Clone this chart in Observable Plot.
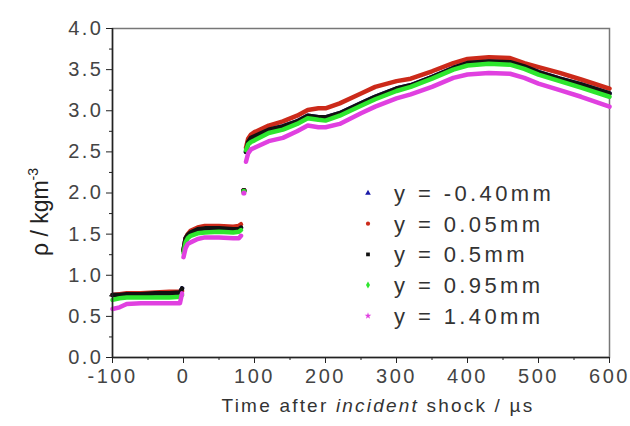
<!DOCTYPE html>
<html>
<head>
<meta charset="utf-8">
<script src="https://cdn.jsdelivr.net/npm/d3@7"></script>
<script src="https://cdn.jsdelivr.net/npm/@observablehq/plot@0.6"></script>
<style>
  html, body { margin: 0; padding: 0; background: #fff; }
  #chart { width: 630px; height: 426px; }
</style>
</head>
<body>
<div id="chart"></div>
<script>
// Time after incident shock (µs)
const time = [-100,-90,-80,-60,-40,-20,-5,-2,
              0,3,6,10,20,30,50,70,78,81,
              85,
              88,91,95,100,120,140,160,175,190,200,220,250,270,300,320,350,380,400,430,460,480,500,530,560,600];
// segment boundaries (times where the signal jumps)
const jumps = [-1, 83, 87];

const seriesNames = ["y = -0.40mm", "y = 0.05mm", "y = 0.5mm", "y = 0.95mm", "y = 1.40mm"];
const seriesColors = ["#1a1aa8", "#cc2a1a", "#111111", "#2ee62e", "#e040e0"];
const seriesSymbols = ["triangle", "circle", "square", "diamond", "star"];

const rhoM040 = [0.76,0.76,0.77,0.77,0.78,0.78,0.79,0.84,
                 1.30,1.45,1.49,1.52,1.56,1.57,1.57,1.56,1.56,1.58,
                 2.03,
                 2.50,2.62,2.67,2.69,2.77,2.81,2.87,2.94,2.92,2.92,2.97,3.09,3.17,3.27,3.31,3.41,3.52,3.58,3.60,3.59,3.54,3.47,3.39,3.32,3.21];
const rho005 = [0.76,0.77,0.78,0.78,0.79,0.80,0.80,0.81,
                1.30,1.45,1.50,1.54,1.58,1.60,1.60,1.59,1.60,1.62,
                2.03,
                2.55,2.66,2.71,2.74,2.82,2.87,2.94,3.01,3.03,3.03,3.09,3.21,3.29,3.36,3.39,3.48,3.58,3.63,3.65,3.64,3.58,3.53,3.46,3.38,3.27];
const rho050 = [0.76,0.76,0.77,0.77,0.78,0.78,0.79,0.84,
                1.30,1.45,1.49,1.52,1.56,1.57,1.57,1.56,1.56,1.58,
                2.03,
                2.50,2.62,2.67,2.69,2.77,2.81,2.87,2.94,2.92,2.92,2.97,3.09,3.17,3.27,3.31,3.41,3.52,3.58,3.60,3.59,3.54,3.47,3.39,3.32,3.21];
const rho095 = [0.70,0.72,0.73,0.73,0.73,0.73,0.74,0.76,
                1.27,1.40,1.45,1.48,1.51,1.52,1.53,1.52,1.53,1.55,
                2.02,
                2.52,2.59,2.62,2.64,2.73,2.77,2.84,2.91,2.89,2.88,2.94,3.06,3.14,3.24,3.29,3.39,3.50,3.55,3.57,3.56,3.51,3.44,3.36,3.28,3.17];
const rho140 = [0.59,0.61,0.65,0.66,0.66,0.66,0.66,0.78,
                1.22,1.33,1.38,1.40,1.44,1.46,1.46,1.45,1.45,1.48,
                2.00,
                2.38,2.48,2.53,2.55,2.63,2.67,2.75,2.82,2.80,2.80,2.84,2.97,3.05,3.15,3.20,3.29,3.40,3.44,3.46,3.45,3.40,3.33,3.25,3.17,3.05];

const xTicks = [-100, 0, 100, 200, 300, 400, 500, 600];
const xMinor = [-50, 50, 150, 250, 350, 450, 550];
const yTicks = [0, 0.5, 1.0, 1.5, 2.0, 2.5, 3.0, 3.5, 4.0];
const yMinor = [0.25, 0.75, 1.25, 1.75, 2.25, 2.75, 3.25, 3.75];

const allSeries = [rhoM040, rho005, rho050, rho095, rho140];
const segOf = t => jumps.filter(j => t > j).length;
const rows = [];
allSeries.forEach((vals, si) => {
  time.forEach((t, i) => rows.push({t, rho: vals[i], s: si, seg: si * 10 + segOf(t)}));
});
const segCounts = d3.rollup(rows, v => v.length, d => d.seg);
const isolated = rows.filter(d => segCounts.get(d.seg) === 1);

const FONT = "'Liberation Sans', Arial, sans-serif";
const color = {domain: d3.range(5), range: seriesColors};

const W = 630, H = 426, mL = 112, mR = 21, mT = 28, mB = 69;

const chart = Plot.plot({
  width: W,
  height: H,
  marginLeft: mL,
  marginRight: mR,
  marginTop: mT,
  marginBottom: mB,
  style: {fontFamily: FONT, fontSize: "20px", color: "#444", background: "#fff", overflow: "visible"},
  x: {domain: [-100, 600]},
  y: {domain: [0, 4]},
  color,
  marks: [
    Plot.frame({stroke: "#777", strokeWidth: 1.5}),
    Plot.line(rows, {x: "t", y: "rho", z: "seg", stroke: d => d.s, strokeWidth: 4.5, strokeLinejoin: "round", strokeLinecap: "round"}),
    Plot.dot(isolated, {x: "t", y: "rho", fill: d => d.s, r: 2.6}),
    Plot.axisX({ticks: xTicks, tickSize: 6, tickPadding: 5, tickFormat: d => String(d), label: null, stroke: "#222", fontSize: 20}),
    Plot.axisX({ticks: xMinor, tickSize: 3, tickFormat: null, text: null, label: null, stroke: "#222"}),
    Plot.axisY({ticks: yTicks, tickSize: 6, tickPadding: 3, tickFormat: d3.format(".1f"), label: null, stroke: "#222", fontSize: 20}),
    Plot.axisY({ticks: yMinor, tickSize: 3, tickFormat: null, text: null, label: null, stroke: "#222"}),
    Plot.ruleX([-100], {stroke: "#222", strokeWidth: 1.5}),
    Plot.ruleY([0], {stroke: "#222", strokeWidth: 1.5})
  ]
});

document.getElementById("chart").appendChild(chart);
const svg = d3.select(chart);
svg.selectAll("text").style("letter-spacing", "2.5px");

// x-axis title with italic word
const xt = svg.append("text")
  .attr("x", 378).attr("y", 412)
  .attr("text-anchor", "middle")
  .style("font-family", FONT).style("font-size", "19px").style("letter-spacing", "2.2px").attr("fill", "#333");
xt.append("tspan").text("Time after ");
xt.append("tspan").style("font-style", "italic").text("incident");
xt.append("tspan").text(" shock / µs");

// y-axis title with superscript
const yt = svg.append("text")
  .attr("transform", `translate(48, 212) rotate(-90)`)
  .attr("text-anchor", "middle")
  .style("font-family", FONT).style("font-size", "23px").attr("fill", "#222");
yt.append("tspan").text("ρ / kgm");
yt.append("tspan").attr("dy", "-10").style("font-size", "14px").text("-3");

// legend
const lg = svg.append("g").attr("transform", "translate(368, 193)");
seriesNames.forEach((name, i) => {
  const g = lg.append("g").attr("transform", `translate(0, ${i * 30.7})`);
  const sym = {triangle: d3.symbolTriangle, circle: d3.symbolCircle, square: d3.symbolSquare, diamond: d3.symbolDiamond, star: d3.symbolStar}[seriesSymbols[i]];
  g.append("path").attr("d", d3.symbol(sym, 14)()).attr("fill", seriesColors[i]);
  g.append("text").attr("x", 26).attr("dy", "0.36em").attr("text-anchor", "start")
    .style("font-family", FONT).style("font-size", "22px").style("letter-spacing", "3.4px")
    .attr("fill", "#333").text(name);
});
</script>
</body>
</html>
